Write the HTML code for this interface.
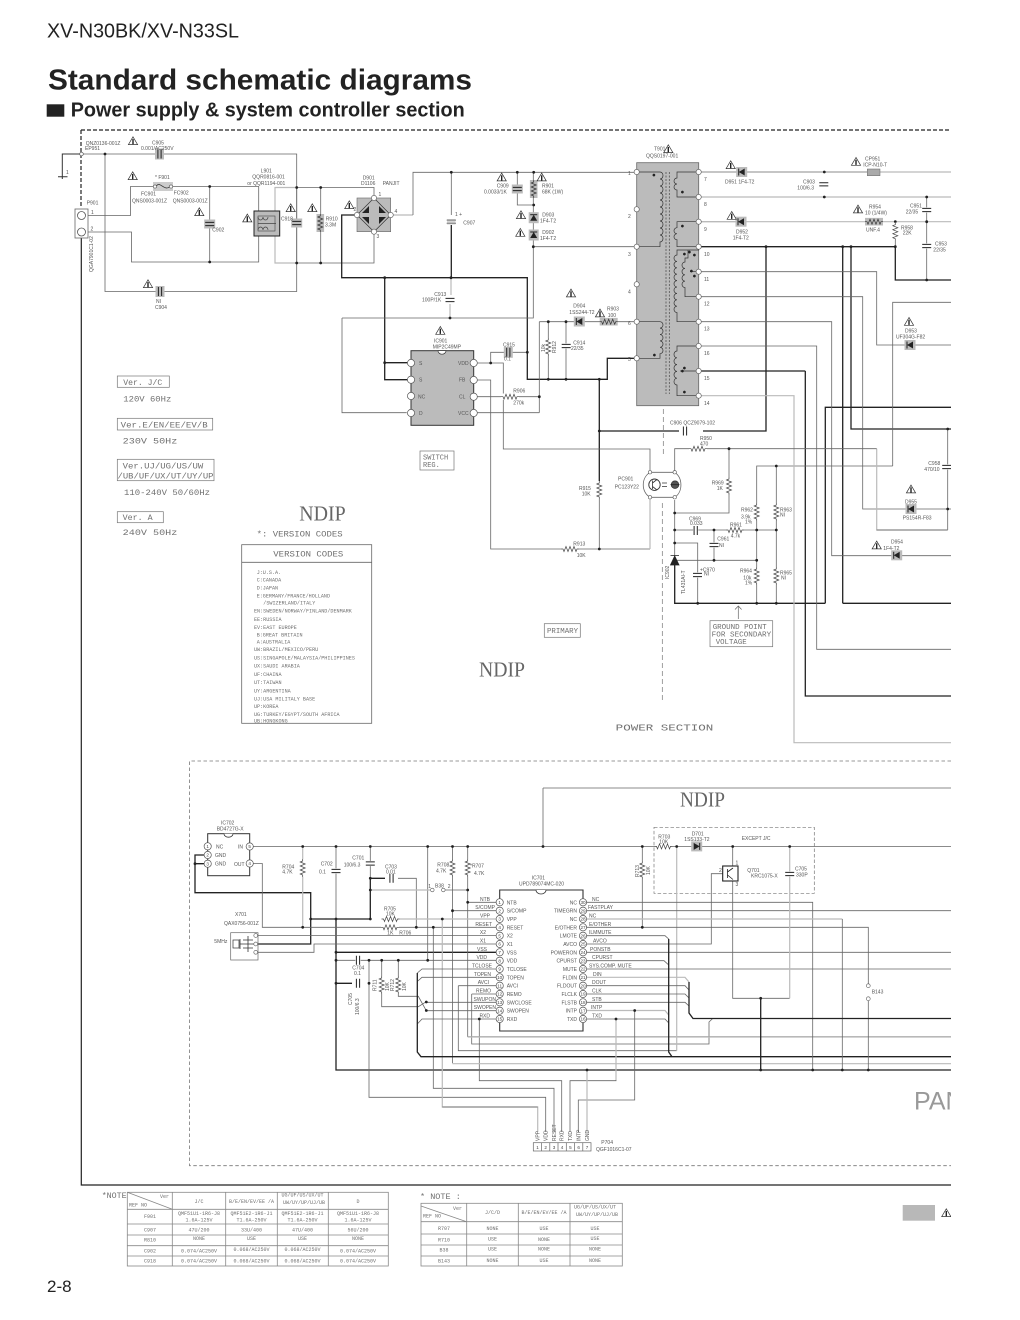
<!DOCTYPE html>
<html lang="en"><head><meta charset="utf-8"><title>Standard schematic diagrams</title>
<style>
html,body{margin:0;padding:0;background:#fff}
svg{display:block;position:absolute;left:0;top:0}
text{font-family:"Liberation Sans",sans-serif;fill:#555;font-size:5px}
.m{font-family:"Liberation Mono",monospace;fill:#707070}
.s{font-family:"Liberation Serif",serif;fill:#666;font-size:21px}
.c{text-anchor:middle}.e{text-anchor:end}
.g{fill:none;stroke:#666;stroke-width:.8}
.k{fill:none;stroke:#222;stroke-width:1.3}
.l{fill:none;stroke:#bbb;stroke-width:1.2}
.b{fill:none;stroke:#777;stroke-width:.8}
.p{font-size:4.6px;fill:#444}
</style></head><body>
<svg xmlns="http://www.w3.org/2000/svg" width="1020" height="1320" viewBox="0 0 1020 1320">
<defs>
<circle id="d" r="1.4" fill="#222"/>
<circle id="n" r="2.6" fill="#fff" stroke="#666" stroke-width=".7"/>
<circle id="pc" r="3.6" fill="#fff" stroke="#555" stroke-width=".7"/>
<g id="w"><polygon points="0,-4.2 -4.6,3.6 4.6,3.6" fill="#fff" stroke="#333" stroke-width=".7"/><line x1="0" y1="-2" x2="0" y2="3.2" stroke="#222" stroke-width="1.4"/></g>
<g id="rv"><rect x="-3.2" y="-9" width="6.4" height="18" fill="#fff"/><polyline points="0,-9 0,-7 -2.5,-6 2.5,-4 -2.5,-2 2.5,0 -2.5,2 2.5,4 -2.5,6 0,7 0,9" fill="none" stroke="#444" stroke-width=".7"/></g>
<g id="rh"><rect x="-9" y="-3.2" width="18" height="6.4" fill="#fff"/><polyline points="-9,0 -7,0 -6,2.5 -4,-2.5 -2,2.5 0,-2.5 2,2.5 4,-2.5 6,2.5 7,0 9,0" fill="none" stroke="#444" stroke-width=".7"/></g>
<g id="rvg"><rect x="-3.8" y="-9" width="7.6" height="18" fill="#bbb"/><polyline points="0,-9 0,-7 -2.5,-6 2.5,-4 -2.5,-2 2.5,0 -2.5,2 2.5,4 -2.5,6 0,7 0,9" fill="none" stroke="#333" stroke-width=".7"/></g>
<g id="rhg"><rect x="-9" y="-3.8" width="18" height="7.6" fill="#bbb"/><polyline points="-9,0 -7,0 -6,2.5 -4,-2.5 -2,2.5 0,-2.5 2,2.5 4,-2.5 6,2.5 7,0 9,0" fill="none" stroke="#333" stroke-width=".7"/></g>
<g id="cv"><rect x="-5" y="-2.6" width="10" height="5.2" fill="#fff"/><path d="M-4.5-1.6H4.5M-4.5 1.6H4.5" stroke="#222" stroke-width="1"/></g>
<g id="ch"><rect x="-2.6" y="-5" width="5.2" height="10" fill="#fff"/><path d="M-1.6-4.5V4.5M1.6-4.5V4.5" stroke="#222" stroke-width="1"/></g>
<g id="cvg"><rect x="-5.5" y="-4.5" width="11" height="9" fill="#bbb"/><path d="M-4.5-1.6H4.5M-4.5 1.6H4.5" stroke="#222" stroke-width="1"/></g>
<g id="chg"><rect x="-4.5" y="-5.5" width="9" height="11" fill="#bbb"/><path d="M-1.6-4.5V4.5M1.6-4.5V4.5" stroke="#222" stroke-width="1"/></g>
<g id="dr"><rect x="-5.5" y="-5" width="11" height="10" fill="#bbb"/><path d="M-3-3.5V3.5L3 0Z" fill="#222"/><path d="M3-3.5V3.5" stroke="#222" stroke-width="1"/></g>
<g id="dl"><rect x="-5.5" y="-5" width="11" height="10" fill="#bbb"/><path d="M3-3.5V3.5L-3 0Z" fill="#222"/><path d="M-3-3.5V3.5" stroke="#222" stroke-width="1"/></g>
<g id="du"><rect x="-5" y="-5.5" width="10" height="11" fill="#bbb"/><path d="M-3.5 3H3.5L0-3Z" fill="#222"/><path d="M-3.5-3H3.5" stroke="#222" stroke-width="1"/></g>
</defs>

<!-- header -->
<text x="47" y="37.3" style="font-size:20.5px;fill:#222" textLength="192" lengthAdjust="spacingAndGlyphs">XV-N30BK/XV-N33SL</text>
<text x="48" y="89.3" style="font-size:29px;font-weight:700;fill:#222" textLength="424" lengthAdjust="spacingAndGlyphs">Standard schematic diagrams</text>
<rect x="46.7" y="104.3" width="17.6" height="12.4" fill="#222"/>
<text x="70.7" y="116.7" style="font-size:20px;font-weight:700;fill:#222" textLength="394" lengthAdjust="spacingAndGlyphs">Power supply &amp; system controller section</text>
<text x="47" y="1292" style="font-size:17px;fill:#222">2-8</text>

<!-- frame -->
<path d="M81 130H951M81 130V208" fill="none" stroke="#222" stroke-width="1.2" stroke-dasharray="4 2"/>
<path d="M81.3 238V1185H951" fill="none" stroke="#222" stroke-width="1.2"/>
<path d="M951 761H189.5V1165.7H951" fill="none" stroke="#777" stroke-width=".8" stroke-dasharray="3.5 2.5"/>
<path d="M663.3 409V455M662.3 503V703" fill="none" stroke="#777" stroke-width=".7" stroke-dasharray="5 3"/>
<path d="M654 827.3H814.3V893.3H654Z" fill="none" stroke="#777" stroke-width=".7" stroke-dasharray="3.5 2"/>

<!-- primary wires -->
<path d="M81 154H62.3V176.7M58 176.7H67.5M62.3 176.7V179" fill="none" stroke="#333" stroke-width="1"/>
<path class="g" d="M81 154H296.7V187.5M105 154V291.5H296.7V187.5"/>
<path class="g" d="M88 215.5H130.5V186.5H258.7V211M88 232H131.5V262H258.7V236M209.7 186.5V262"/>
<path class="l" d="M275 211V187.5H296.7M275 236V263H296.7"/>
<path class="g" d="M296.7 187.5H374V198M296.7 263H374V232M320.7 187.5V263M296.7 187.5V263"/>
<path class="k" d="M357 215H341.7V277.7H527.3V379.3H607.3V358.3H636.7M384.7 277.7V379.7H411M599.3 379.3V482M384.7 362.7H411M599.3 431H679M703 431H766V246.7"/>
<path class="l" d="M390.7 215H413"/>
<path class="g" d="M413 215V172.3H636.7M451.3 172.3V215"/>
<path class="k" d="M451.3 225V277.7"/>
<path class="l" d="M451 278V295M450 304V318"/>
<path class="g" d="M342 318H533.3V246.7H636.7M342 318V412.7H406.7M533.3 172.3V180M533.3 198V246.7M517.3 172.3V205H533.3"/>
<path class="g" d="M473.7 363H503.3V449H650V470M490.7 363V352.3H527.3M473.7 380H490.7V549H561"/>
<path class="g" d="M579 549H650M599.3 498V549M473.7 396.7H501M519 396.7H539.3M473.7 412.7H539.3M539.3 321.7V412.7M539.3 321.7H636.7M548.3 321.7V379.3M566 321.7V379.3"/>
<path class="l" d="M650 499V549"/>

<!-- secondary wires -->
<path class="g" d="M698.7 172H867M698.7 221.7H736M895.3 222V246.7M926.7 222V280M926.7 197V222"/>
<path class="l" d="M880 172H951M698.7 197H951M698.7 221.7H865M882 221.7H951"/>
<path class="k" d="M698.7 246.7H895.3V280H951M842.7 246.7V603.3M851 246.7V429H951M825.3 603.3V407.3H951M674.7 560V603.3H825.3M842.7 603.3H951M805.3 371V696H951M698.7 371H805.3"/>
<path class="g" d="M698.7 271.7H876.7V345H951M698.7 296.7H862.7V509H951M698.7 321.7H831.7V555.7H951M698.7 346H816.7V649.3H951M892.7 466V302.3H951M892.7 466H756.7V603.3M776.3 466V603.3M947.7 430V530"/>
<path class="l" d="M698.7 395.7H794V742.7H951M876.7 448.7V530H947.7"/>
<path class="g" d="M876.7 530H947.7M674.7 472V448.7H689M707 448.7H876.7M729 448.7V513H674.7V500M674.7 513V560M674.7 530H714M714 530H756.7M714 530V560.3H756.7M674.7 543H697.7V603.3M676 560.3H714M650 472.3H674.7M650 497.3H674.7M756.7 530H776.3"/>

<!-- lower wires -->
<path class="g" d="M249.7 846.5H951M543 788H951M543 788V846.5"/>
<path class="k" d="M207 855H195V892.7H310.7V944H257M195 863.7H207M310.7 919H370.3V878.3M370.3 878.3H385M336 919V1070H951M336 952.3H496M336 983.3H352"/>
<path class="g" d="M370.3 846.5V878M336 846.5V919M249.7 863.5H262.3V927.3H383M396 927.3H496M398 878.3H416.3V927.3M369 960.3V1097.3H545.7V1132M336 960.3H496M427.7 846.5V960.3M452.5 846.5V1063.3M452.5 910.7H496M467.7 846.5V1037M467.7 902.3H496M257 935.5H496M257 952.3H314V944H496M433.3 927.3V1088.3H554V1132"/>
<path class="l" d="M302.7 846.5V927.3M370.3 890H430M398 919H496M442.3 919V1107H537.7V1132"/>
<path class="g" d="M443.3 890H467.7M442.3 1107H537.7M381.7 960.3V1006.7H418.3L426.3 1001.7M398.3 960.3V996.3H418.3L426.3 1010.7M426.3 1002.3H496M426.3 1010.7H496M417.3 973L422 969H496M417.3 981.5L422 977.3H496M417.3 1024L422 1019H496M458.3 985.7H496M458.3 985.7V1050.7H676.7M471.7 994H496M471.7 994V1044H709V1022L712.7 1018.5M479.3 1019V1080.7H561.7V1132M467.7 1036.7H951"/>
<path class="l" d="M467.7 1037H951M452.5 1063.7H951M676.7 846.5V1050.7"/>
<path class="k" d="M417.3 973V1052L421 1056.7H951"/>
<!-- right side of IC701 -->
<path class="g" d="M586 902.3H812.7V1070M586 910.7H951M586 927.3H868.3V985M868.3 1001V1070M642.3 846.5V927.3M586 935.7H665L668.7 939M586 944H711.3V873.7H722.7M586 952.3H951M586 960.7H664L668.7 965M586 969H951M586 985.7H685L689 990M586 994H685L689 998M586 1002.3H685L689 1006M586 1019H665L668.7 1023M616 1019V1080.7H570V1132M634.7 1010.5V1100H578.3V1132M732.7 846.5V866M732.7 881V998.3H789.7M616 1019V1080.7"/>
<path class="l" d="M586 919H842.3M586 977.3H685L689 982M586 1010.5H665L668.7 1015M789.7 846.5V998.3M616 1019V1080M587 1070V1132"/>
<path class="g" d="M842.3 919V1070"/>
<path class="k" d="M668.7 939V1052L672 1056.7M689 982V1013L693 1018.5H951M760.7 998.3V1070"/>

<!-- dots -->
<use href="#d" x="105" y="154"/><use href="#d" x="209.7" y="186.5"/><use href="#d" x="209.7" y="262"/><use href="#d" x="296.7" y="187.5"/><use href="#d" x="320.7" y="187.5"/><use href="#d" x="296.7" y="263"/><use href="#d" x="320.7" y="263"/><use href="#d" x="451.3" y="172.3"/><use href="#d" x="384.7" y="277.7"/><use href="#d" x="451" y="277.7"/><use href="#d" x="450" y="318"/><use href="#d" x="384.7" y="362.7"/><use href="#d" x="490.7" y="363"/><use href="#d" x="527.3" y="352.3"/><use href="#d" x="517.3" y="172.3"/><use href="#d" x="533.7" y="172.3"/><use href="#d" x="533.7" y="205"/><use href="#d" x="533.3" y="246.7"/><use href="#d" x="548.3" y="321.7"/><use href="#d" x="566" y="321.7"/><use href="#d" x="548.3" y="379.3"/><use href="#d" x="566" y="379.3"/><use href="#d" x="599.3" y="379.3"/><use href="#d" x="539.3" y="396.7"/><use href="#d" x="599.3" y="431"/><use href="#d" x="599.3" y="549"/>
<use href="#d" x="824.3" y="172"/><use href="#d" x="824.3" y="197"/><use href="#d" x="926.7" y="197"/><use href="#d" x="895.3" y="221.7"/><use href="#d" x="926.7" y="221.7"/><use href="#d" x="766" y="246.7"/><use href="#d" x="842.7" y="246.7"/><use href="#d" x="851" y="246.7"/><use href="#d" x="895.3" y="246.7"/><use href="#d" x="926.7" y="280"/><use href="#d" x="947.7" y="429"/><use href="#d" x="947.7" y="509"/><use href="#d" x="729" y="448.7"/><use href="#d" x="776.3" y="466"/><use href="#d" x="674.7" y="513"/><use href="#d" x="674.7" y="530"/><use href="#d" x="714" y="530"/><use href="#d" x="756.7" y="530"/><use href="#d" x="776.3" y="530"/><use href="#d" x="674.7" y="543"/><use href="#d" x="714" y="560.3"/><use href="#d" x="756.7" y="560.3"/><use href="#d" x="697.7" y="603.3"/><use href="#d" x="756.7" y="603.3"/><use href="#d" x="776.3" y="603.3"/>
<use href="#d" x="302.7" y="846.5"/><use href="#d" x="336" y="846.5"/><use href="#d" x="370.3" y="846.5"/><use href="#d" x="427.7" y="846.5"/><use href="#d" x="452.5" y="846.5"/><use href="#d" x="467.7" y="846.5"/><use href="#d" x="543" y="846.5"/><use href="#d" x="642.3" y="846.5"/><use href="#d" x="676.7" y="846.5"/><use href="#d" x="732.7" y="846.5"/><use href="#d" x="789.7" y="846.5"/><use href="#d" x="195" y="863.7"/><use href="#d" x="370.3" y="878.3"/><use href="#d" x="370.3" y="890"/><use href="#d" x="467.7" y="890"/><use href="#d" x="467.7" y="902.3"/><use href="#d" x="452.5" y="910.7"/><use href="#d" x="310.7" y="919"/><use href="#d" x="336" y="919"/><use href="#d" x="370.3" y="919"/><use href="#d" x="442.3" y="919"/><use href="#d" x="302.7" y="927.3"/><use href="#d" x="416.3" y="927.3"/><use href="#d" x="433.3" y="927.3"/><use href="#d" x="336" y="952.3"/><use href="#d" x="336" y="960.3"/><use href="#d" x="369" y="960.3"/><use href="#d" x="381.7" y="960.3"/><use href="#d" x="398.3" y="960.3"/><use href="#d" x="427.7" y="960.3"/><use href="#d" x="336" y="983.3"/><use href="#d" x="369" y="983.3"/><use href="#d" x="426.3" y="1002"/><use href="#d" x="426.3" y="1010.5"/><use href="#d" x="479.3" y="1019"/><use href="#d" x="616" y="1019"/><use href="#d" x="634.7" y="1010.5"/><use href="#d" x="642.3" y="927.3"/><use href="#d" x="760.7" y="998.3"/><use href="#d" x="760.7" y="1070"/><use href="#d" x="812.7" y="1070"/><use href="#d" x="842.3" y="1070"/><use href="#d" x="868.3" y="1070"/><use href="#d" x="587" y="1070"/>

<!-- P901 -->
<rect x="75" y="209" width="13" height="29" fill="#fff" stroke="#666" stroke-width=".8"/>
<circle cx="81.5" cy="215.5" r="4" fill="#fff" stroke="#555" stroke-width=".8"/><circle cx="81.5" cy="232" r="4" fill="#fff" stroke="#555" stroke-width=".8"/>
<circle cx="81.5" cy="154" r="1.8" fill="#fff" stroke="#555" stroke-width=".7"/>
<!-- fuse -->
<rect x="153" y="182" width="20" height="9" fill="#ccc"/><path d="M156 186.5C160 180 164 192 170 186.5" fill="none" stroke="#333" stroke-width=".8"/><circle cx="155" cy="186.5" r="1.6" fill="#fff" stroke="#555" stroke-width=".6"/><circle cx="171" cy="186.5" r="1.6" fill="#fff" stroke="#555" stroke-width=".6"/>
<use href="#chg" x="159.5" y="154"/><use href="#chg" x="160" y="291.5"/>
<use href="#cvg" x="209.7" y="224"/><use href="#cvg" x="296.7" y="223"/>
<use href="#rvg" x="320.3" y="223"/>
<!-- L901 -->
<rect x="254" y="211" width="25.7" height="25" fill="#bbb" stroke="#222" stroke-width="1"/>
<path d="M258 217a2.5 3 0 1 0 5 0a2.5 3 0 1 0 5 0M258 230a2.5 3 0 1 1 5 0a2.5 3 0 1 1 5 0M258 223.5H276" fill="none" stroke="#444" stroke-width=".7"/>
<rect x="258" y="216" width="17" height="15" fill="none" stroke="#444" stroke-width=".6"/>
<!-- D901 -->
<rect x="357" y="198" width="33.7" height="33.7" fill="#bbb" stroke="#666" stroke-width=".6"/>
<path d="M357 215L374 198L390.7 215L374 231.7Z" fill="none" stroke="#333" stroke-width=".7"/>
<path d="M362 213L369 206L369 213ZM379 206L386 213L379 213ZM369 217L362 217L369 224ZM379 217L386 217L379 224Z" fill="#222"/>
<use href="#n" x="374" y="198"/><use href="#n" x="357" y="215"/><use href="#n" x="390.7" y="215"/><use href="#n" x="374" y="231.7"/>
<use href="#cv" x="451.3" y="221.7"/><rect x="447" y="219" width="8.5" height="5.5" fill="#bbb" opacity=".6"/>
<use href="#cv" x="450" y="300"/>
<use href="#chg" x="508.3" y="352.3"/>
<use href="#cvg" x="517.3" y="189"/><use href="#rvg" x="533.7" y="189"/>
<use href="#du" x="533.7" y="217.7"/><use href="#du" x="533.7" y="235"/>
<use href="#dl" x="579.3" y="321.5"/><use href="#rhg" x="608.7" y="321.7"/>
<use href="#rv" x="548.3" y="347"/><use href="#cv" x="566.2" y="346"/>
<use href="#rh" x="510" y="396.7"/>
<!-- IC901 -->
<rect x="411" y="350.7" width="62.7" height="74.6" fill="#bbb" stroke="#333" stroke-width="1"/>
<path d="M438 350.7a4 3.5 0 0 0 8 0Z" fill="#fff" stroke="#333" stroke-width=".7"/>
<use href="#pc" x="411" y="363"/><use href="#pc" x="411" y="379.7"/><use href="#pc" x="411" y="396"/><use href="#pc" x="411" y="413"/><use href="#pc" x="473.7" y="363"/><use href="#pc" x="473.7" y="380"/><use href="#pc" x="473.7" y="396.7"/><use href="#pc" x="473.7" y="413"/>
<!-- T901 -->
<rect x="636.7" y="162.7" width="62" height="243" fill="#bbb" stroke="#666" stroke-width=".8"/>
<path d="M666 172V394M669.3 172V394" fill="none" stroke="#444" stroke-width=".7" stroke-dasharray="2 1.5"/>
<path fill="none" stroke="#333" stroke-width=".7" d="M636.7 172H660a3 3.5 0 1 1 0 7a3 3.5 0 1 1 0 7a3 3.5 0 1 1 0 7a3 3.5 0 1 1 0 7a3 3.5 0 1 1 0 7a3 3.5 0 1 1 0 7a3 3.5 0 1 1 0 7a3 3.5 0 1 1 0 7a3 3.5 0 1 1 0 7a3 3.5 0 1 1 0 7V246.7H636.7
M698.7 172H677v6a3 3 0 1 0 0 6a3 3 0 1 0 0 6v7H698.7
M698.7 221.7H677v6a3 3 0 1 0 0 6a3 3 0 1 0 0 6v7H698.7
M698.7 246.7V250H677v5a3 3.2 0 1 0 0 6.4a3 3.2 0 1 0 0 6.4a3 3.2 0 1 0 0 6.4a3 3.2 0 1 0 0 6.4a3 3.2 0 1 0 0 6.4a3 3.2 0 1 0 0 6.4a3 3.2 0 1 0 0 6.4a3 3.2 0 1 0 0 6.4a3 3.2 0 1 0 0 6.4V321.7H698.7
M688 250V258H685v4a3 3.2 0 1 0 0 6.4a3 3.2 0 1 0 0 6.4a3 3.2 0 1 0 0 6.4a3 3.2 0 1 0 0 6.4V296.7H698.7M690 271.7H698.7
M636.7 321.7H660a3 3.2 0 1 1 0 6.4a3 3.2 0 1 1 0 6.4a3 3.2 0 1 1 0 6.4a3 3.2 0 1 1 0 6.4a3 3.2 0 1 1 0 6.4V358.3H636.7
M698.7 346H677v5a3 3.4 0 1 0 0 6.8a3 3.4 0 1 0 0 6.8a3 3.4 0 1 0 0 6.8a3 3.4 0 1 0 0 6.8a3 3.4 0 1 0 0 6.8V395.7H698.7M680 371H698.7"/>
<path fill="#222" d="M652.5 175a1.4 1.4 0 1 1 0 .1ZM681 192a1.4 1.4 0 1 1 0 .1ZM681 226a1.4 1.4 0 1 1 0 .1ZM683 254a1.4 1.4 0 1 1 0 .1ZM688 252a1.4 1.4 0 1 1 0 .1ZM693 255a1.4 1.4 0 1 1 0 .1ZM690 271a1.4 1.4 0 1 1 0 .1ZM693 276a1.4 1.4 0 1 1 0 .1ZM653 355a1.4 1.4 0 1 1 0 .1ZM683 368a1.4 1.4 0 1 1 0 .1ZM681 371a1.4 1.4 0 1 1 0 .1ZM683 392a1.4 1.4 0 1 1 0 .1Z"/>
<use href="#n" x="636.7" y="172"/><use href="#n" x="636.7" y="209.3"/><use href="#n" x="636.7" y="246.7"/><use href="#n" x="636.7" y="284.3"/><use href="#n" x="636.7" y="321.7"/><use href="#n" x="636.7" y="358.3"/>
<use href="#n" x="698.7" y="172"/><use href="#n" x="698.7" y="197"/><use href="#n" x="698.7" y="221.7"/><use href="#n" x="698.7" y="246.7"/><use href="#n" x="698.7" y="271.7"/><use href="#n" x="698.7" y="296.7"/><use href="#n" x="698.7" y="321.7"/><use href="#n" x="698.7" y="346"/><use href="#n" x="698.7" y="371"/><use href="#n" x="698.7" y="395.7"/>
<!-- secondary components -->
<use href="#dl" x="741.7" y="172"/><use href="#dl" x="741" y="221.7"/><use href="#dl" x="910" y="345"/><use href="#dl" x="911" y="509"/><use href="#dl" x="896.7" y="555.3"/>
<use href="#cv" x="823.8" y="184.3"/><use href="#cv" x="926.7" y="210"/><use href="#cv" x="926.7" y="246"/><use href="#cv" x="946.7" y="467"/>
<rect x="867.3" y="169" width="12.7" height="6.7" fill="#aaa" stroke="#666" stroke-width=".5"/>
<use href="#rhg" x="874" y="221.7"/><use href="#rv" x="895.3" y="231.7"/>
<use href="#ch" x="685" y="431"/><use href="#rh" x="698" y="448.7"/>
<use href="#rv" x="599.3" y="490"/><use href="#rh" x="570" y="549"/>
<use href="#rv" x="729" y="486"/><use href="#rv" x="756.7" y="512"/><use href="#rv" x="776.3" y="512"/><use href="#rv" x="756.7" y="576"/><use href="#rv" x="776.3" y="576"/>
<use href="#ch" x="695.7" y="530.5"/><use href="#rh" x="735" y="530"/><use href="#cv" x="714" y="545"/><use href="#cv" x="697.5" y="575"/>
<path d="M670.5 565H679L674.7 556Z M670.5 555.5H679" fill="#222" stroke="#222" stroke-width=".8"/>
<!-- PC901 -->
<path d="M650 472.3C641 478 641 492 650 497.3M674.7 472.3C683 478 683 492 674.7 497.3" fill="none" stroke="#666" stroke-width=".8"/>
<circle cx="654.5" cy="484.7" r="5.7" fill="#fff" stroke="#333" stroke-width=".9"/><path d="M652.5 480.5V489M652.5 483L657 479.5M652.5 486.5L657 490" stroke="#333" stroke-width=".8" fill="none"/>
<path d="M662 483H667M662 486.5H667" stroke="#333" stroke-width=".8"/>
<circle cx="675" cy="484.7" r="3.8" fill="#555" stroke="#333" stroke-width=".7"/><path d="M670.5 484.7H679.5" stroke="#222" stroke-width=".8"/>
<circle cx="650" cy="472.3" r="1.7" fill="#fff" stroke="#555" stroke-width=".6"/><circle cx="674.7" cy="472.3" r="1.7" fill="#fff" stroke="#555" stroke-width=".6"/><circle cx="650" cy="497.3" r="1.7" fill="#fff" stroke="#555" stroke-width=".6"/><circle cx="674.7" cy="497.3" r="1.7" fill="#fff" stroke="#555" stroke-width=".6"/>
<path d="M738.3 619V606M735 609.5L738.3 606L741.6 609.5" fill="none" stroke="#666" stroke-width=".7"/>

<!-- warnings -->
<use href="#w" x="133" y="141"/><use href="#w" x="132.7" y="176"/><use href="#w" x="199.3" y="212"/><use href="#w" x="247.3" y="218.3"/><use href="#w" x="290.7" y="208"/><use href="#w" x="312.3" y="208"/><use href="#w" x="349.3" y="205"/><use href="#w" x="148" y="284"/><use href="#w" x="440.3" y="330.7"/><use href="#w" x="501.7" y="177.3"/><use href="#w" x="541.7" y="177.3"/><use href="#w" x="521" y="215"/><use href="#w" x="520.3" y="232.7"/><use href="#w" x="571" y="293.3"/><use href="#w" x="600" y="313.3"/><use href="#w" x="668.3" y="149"/><use href="#w" x="730.7" y="165"/><use href="#w" x="731.7" y="215.7"/><use href="#w" x="856" y="161.7"/><use href="#w" x="858" y="209.3"/><use href="#w" x="909" y="321.7"/><use href="#w" x="911" y="489.3"/><use href="#w" x="876.7" y="545.3"/>

<!-- upper labels -->
<text x="85.7" y="145">QNZ0136-001Z</text><text x="85" y="150">EP951</text><text x="152" y="144.5">C905</text><text x="141" y="150">0.001/AC250V</text>
<text x="66" y="174">1</text><text x="155" y="179">* F901</text><text x="141" y="195.5">FC901</text><text x="173.7" y="194.5">FC902</text><text x="132" y="202.5">QNS0003-001Z</text><text x="172.7" y="202.5">QNS0003-001Z</text><text x="212.3" y="231.5">C902</text><text x="86.7" y="204.5">P901</text><text x="91" y="214">1</text><text x="90.5" y="230.5">2</text>
<text transform="translate(93,272) rotate(-90)">QGA7901C1-02</text>
<text x="260.7" y="172.5">L901</text><text x="252.3" y="178.5">QQR0816-001</text><text x="247.3" y="185">or  QQR1194-001</text><text x="281" y="220.5">C918</text><text x="325.7" y="220.5">R910</text><text x="325" y="226.5">3.3M</text><text x="362.7" y="179.5">D901</text><text x="361" y="185">D1106</text><text x="382.7" y="185">PANJIT</text>
<text x="378.5" y="196">1</text><text x="394.5" y="213">4</text><text x="353.5" y="211">2</text><text x="376.5" y="238">3</text><text x="455" y="216">1 +</text><text x="463.3" y="224.5">C907</text>
<text x="156" y="303">NI</text><text x="155" y="309">C904</text>
<text x="434.3" y="296">C913</text><text x="422" y="301.5">100P/1K</text><text x="434" y="342.5">IC901</text><text x="432.7" y="348.5">MIP2C49MP</text>
<text x="419" y="365">S</text><text x="419" y="381.5">S</text><text x="418" y="398.5">NC</text><text x="419" y="415">D</text><text x="458" y="365">VDD</text><text x="459" y="381.5">FB</text><text x="459" y="398.5">CL</text><text x="458" y="415">VCC</text>
<text x="496.7" y="187.5">C909</text><text x="484" y="193.5">0.0033/1K</text><text x="542" y="187.5">R901</text><text x="542" y="193.5">68K (1W)</text><text x="542.3" y="216.5">D903</text><text x="540" y="222.5">1F4-T2</text><text x="542.3" y="234">D902</text><text x="540" y="240">1F4-T2</text>
<text x="573.3" y="307.5">D904</text><text x="569.3" y="314">1SS244-T2</text><text x="607" y="310.5">R903</text><text x="607.7" y="317">100</text>
<text transform="translate(545,352) rotate(-90)">10k</text><text transform="translate(556,353) rotate(-90)">R912</text>
<text x="573.3" y="344.5">C914</text><text x="571" y="350">22/35</text><text x="503" y="346.5">C915</text><text x="504" y="360.5">0.1</text><text x="513.3" y="392.5">R906</text><text x="513.3" y="404.5">270k</text>
<text x="654" y="150.5">T901</text><text x="646" y="157.5">QQS0197-001</text>
<text x="628" y="175">1</text><text x="628" y="218">2</text><text x="628" y="256">3</text><text x="628" y="293.5">4</text><text x="628" y="325">6</text><text x="628" y="361">5</text>
<g style="font-size:5.5px"><text x="704" y="181">7</text><text x="704" y="206">8</text><text x="704" y="231">9</text><text x="704" y="256">10</text><text x="704" y="281">11</text><text x="704" y="305.5">12</text><text x="704" y="330.5">13</text><text x="704" y="355">16</text><text x="704" y="380">15</text><text x="704" y="405">14</text></g>
<text x="725" y="183.5">D951  1F4-T2</text><text x="736" y="233.5">D952</text><text x="732.7" y="239.5">1F4-T2</text>
<text x="803" y="183.7">C903</text><text x="797.3" y="189.7">100/6.3</text><text x="865" y="160.7">CP951</text><text x="863.3" y="166.5">ICP-N10-T</text><text x="910" y="207.5">C951</text><text x="905.7" y="213.5">22/35</text><text x="869" y="208.5">R954</text><text x="865" y="214.5">10   (1/4W)</text><text x="866" y="231.5">UNF.4</text><text x="901" y="229.5">R958</text><text x="902.7" y="234.5">22K</text><text x="935" y="245.5">C953</text><text x="933.3" y="251.5">22/35</text><text x="905" y="332.5">D953</text><text x="896" y="338.5">UF304G-F82</text>
<text x="670" y="424.5">C906  QCZ9079-102</text><text x="700" y="440">R950</text><text x="700" y="445.5">470</text>
<text x="618" y="480.5">PC901</text><text x="614.7" y="488.5">PC123Y22</text><text x="579" y="490">R915</text><text x="581.7" y="495.5">10K</text><text x="573.3" y="545.5">R913</text><text x="576.7" y="557">10K</text>
<text x="711.7" y="484.5">R969</text><text x="716.7" y="490">1K</text><text x="741" y="511.5">R962</text><text x="741" y="518.5">3.9k</text><text x="745" y="523.5">1%</text><text x="780" y="511.5">R963</text><text x="780" y="516.5">NI</text><text x="689" y="520.5">C969</text><text x="690" y="525">0.033</text><text x="730" y="526.5">R961</text><text x="730.7" y="537.5">4.7k</text><text x="717.3" y="540.5">C961</text><text x="719" y="547">NI</text>
<text transform="translate(669,579) rotate(-90)">IC902</text><text transform="translate(685,594) rotate(-90)">TL431AI-T</text>
<text x="700" y="571.5">+C970</text><text x="704" y="575.5">NI</text><text x="740" y="572.5">R964</text><text x="743.3" y="579.5">10k</text><text x="745" y="584.5">1%</text><text x="780" y="574.5">R965</text><text x="781" y="579.5">NI</text>
<text x="928.3" y="465">C958</text><text x="924.3" y="471">470/10</text><text x="905" y="503.5">D955</text><text x="902.7" y="519.5">PS154R-F83</text><text x="891" y="543.5">D954</text><text x="883.3" y="550">1F4-T2</text>

<!-- large mono labels -->
<rect x="117.3" y="376" width="52" height="11.3" fill="#fff" stroke="#777" stroke-width=".7"/><text class="m" x="123.3" y="385" style="font-size:8px" textLength="39" lengthAdjust="spacingAndGlyphs">Ver. J/C</text>
<text class="m" x="123.3" y="401.3" style="font-size:8px" textLength="48" lengthAdjust="spacingAndGlyphs">120V  60Hz</text>
<rect x="117.3" y="418.3" width="95.4" height="11.7" fill="#fff" stroke="#777" stroke-width=".7"/><text class="m" x="120.7" y="427.3" style="font-size:8.5px" textLength="87" lengthAdjust="spacingAndGlyphs">Ver.E/EN/EE/EV/B</text>
<text class="m" x="122.7" y="443.7" style="font-size:8px" textLength="54.6" lengthAdjust="spacingAndGlyphs">230V   50Hz</text>
<rect x="117.3" y="459.3" width="96.7" height="21.4" fill="#fff" stroke="#777" stroke-width=".7"/><text class="m" x="122.7" y="468.7" style="font-size:8.5px" textLength="80.6" lengthAdjust="spacingAndGlyphs">Ver.UJ/UG/US/UW</text><text class="m" x="117.5" y="478.7" style="font-size:8.5px" textLength="96" lengthAdjust="spacingAndGlyphs">/UB/UF/UX/UT/UY/UP</text>
<text class="m" x="124" y="495" style="font-size:8px" textLength="86" lengthAdjust="spacingAndGlyphs">110-240V  50/60Hz</text>
<rect x="117.3" y="511.7" width="46" height="11" fill="#fff" stroke="#777" stroke-width=".7"/><text class="m" x="122.7" y="520" style="font-size:8px" textLength="30" lengthAdjust="spacingAndGlyphs">Ver. A</text>
<text class="m" x="122.7" y="535" style="font-size:8px" textLength="54.6" lengthAdjust="spacingAndGlyphs">240V   50Hz</text>
<text class="s" x="299.3" y="520.7" textLength="46.4" lengthAdjust="spacingAndGlyphs">NDIP</text>
<text class="s" x="479" y="676.7" textLength="46" lengthAdjust="spacingAndGlyphs">NDIP</text>
<text class="s" x="680" y="806.7" textLength="45" lengthAdjust="spacingAndGlyphs">NDIP</text>
<text class="m" x="256.7" y="536.7" style="font-size:8px" textLength="86" lengthAdjust="spacingAndGlyphs">*: VERSION CODES</text>
<rect x="241.7" y="544.7" width="130" height="178.6" fill="#fff" stroke="#666" stroke-width=".8"/><path d="M241.7 562.3H371.7" stroke="#666" stroke-width=".8"/>
<text class="m" x="273.3" y="556.7" style="font-size:8px" textLength="70" lengthAdjust="spacingAndGlyphs">VERSION CODES</text>
<g>
<text class="m" x="256.7" y="574" style="font-size:5.1px">J:U.S.A.</text>
<text class="m" x="256.7" y="581.7" style="font-size:5.1px">C:CANADA</text>
<text class="m" x="256.7" y="589.7" style="font-size:5.1px">D:JAPAN</text>
<text class="m" x="256.7" y="597.4" style="font-size:5.1px">E:GERMANY/FRANCE/HOLLAND</text>
<text class="m" x="263.3" y="604.4" style="font-size:5.1px">/SWIZERLAND/ITALY</text>
<text class="m" x="254" y="612.7" style="font-size:5.1px">EN:SWEDEN/NORWAY/FINLAND/DENMARK</text>
<text class="m" x="254" y="621" style="font-size:5.1px">EE:RUSSIA</text>
<text class="m" x="254" y="629" style="font-size:5.1px">EV:EAST EUROPE</text>
<text class="m" x="256.7" y="636.4" style="font-size:5.1px">B:GREAT BRITAIN</text>
<text class="m" x="256.7" y="643.7" style="font-size:5.1px">A:AUSTRALIA</text>
<text class="m" x="254" y="651" style="font-size:5.1px">UW:BRAZIL/MEXICO/PERU</text>
<text class="m" x="254" y="659.4" style="font-size:5.1px">US:SINGAPOLE/MALAYSIA/PHILIPPINES</text>
<text class="m" x="254" y="667.7" style="font-size:5.1px">UX:SAUDI ARABIA</text>
<text class="m" x="254" y="676" style="font-size:5.1px">UF:CHAINA</text>
<text class="m" x="254" y="684" style="font-size:5.1px">UT:TAIWAN</text>
<text class="m" x="254" y="692.4" style="font-size:5.1px">UY:ARGENTINA</text>
<text class="m" x="254" y="700.7" style="font-size:5.1px">UJ:USA MILITALY BASE</text>
<text class="m" x="254" y="708" style="font-size:5.1px">UP:KOREA</text>
<text class="m" x="254" y="716" style="font-size:5.1px">UG:TURKEY/EGYPT/SOUTH AFRICA</text>
<text class="m" x="254" y="722.7" style="font-size:5.1px">UB:HONGKONG</text>
</g>
<rect x="420" y="451" width="34" height="19" fill="#fff" stroke="#777" stroke-width=".7"/><text class="m" x="423" y="459.5" style="font-size:7px">SWITCH</text><text class="m" x="423" y="467" style="font-size:7px">REG.</text>
<rect x="544.3" y="623.7" width="36" height="13.6" fill="#fff" stroke="#777" stroke-width=".7"/><text class="m" x="547" y="632.8" style="font-size:7px" textLength="31" lengthAdjust="spacingAndGlyphs">PRIMARY</text>
<rect x="710" y="620.7" width="62.7" height="26" fill="#fff" stroke="#777" stroke-width=".7"/>
<text class="m" x="712.7" y="629" style="font-size:7.5px" textLength="54" lengthAdjust="spacingAndGlyphs">GROUND POINT</text><text class="m" x="711.7" y="636.7" style="font-size:7.5px" textLength="59.5" lengthAdjust="spacingAndGlyphs">FOR SECONDARY</text><text class="m" x="715.7" y="644" style="font-size:7.5px" textLength="31" lengthAdjust="spacingAndGlyphs">VOLTAGE</text>
<text class="m" x="615.7" y="730.7" style="font-size:9px" textLength="97.6" lengthAdjust="spacingAndGlyphs">POWER  SECTION</text>

<!-- IC702 -->
<rect x="207.7" y="833.7" width="42" height="42" fill="#fff" stroke="#333" stroke-width="1"/><path d="M224 833.7a4.5 3.5 0 0 0 9 0" fill="#fff" stroke="#333" stroke-width=".8"/>
<use href="#pc" x="207.7" y="846.3"/><use href="#pc" x="207.7" y="855"/><use href="#pc" x="207.7" y="863.7"/><use href="#pc" x="249.7" y="846.5"/><use href="#pc" x="249.7" y="863.5"/>
<text x="221" y="824.5">IC702</text><text x="216.7" y="830.7">BD4727G-X</text><text x="216" y="848.5">NC</text><text x="215" y="857">GND</text><text x="215" y="865.5">GND</text><text x="238" y="848.5">IN</text><text x="234" y="866">OUT</text>
<text class="p c" x="207.7" y="848">1</text><text class="p c" x="207.7" y="856.7">2</text><text class="p c" x="207.7" y="865.4">3</text><text class="p c" x="249.7" y="848.2">5</text><text class="p c" x="249.7" y="865.2">4</text>
<use href="#rv" x="302.7" y="868"/><use href="#cv" x="336" y="871"/><use href="#cv" x="370.3" y="863.5"/><use href="#ch" x="391.5" y="878.3"/><use href="#rv" x="452.5" y="868"/><use href="#rv" x="467.7" y="868"/>
<use href="#rh" x="390.5" y="919"/><use href="#rh" x="390" y="927.3"/><use href="#ch" x="358" y="960.3"/><use href="#ch" x="358" y="983.3"/><use href="#rv" x="381.7" y="985"/><use href="#rv" x="398.3" y="985"/>
<circle cx="432.3" cy="890" r="1.8" fill="#fff" stroke="#555" stroke-width=".6"/><circle cx="443.3" cy="890" r="1.8" fill="#fff" stroke="#555" stroke-width=".6"/>
<text x="282.3" y="868.5">R704</text><text x="282.3" y="873.7">4.7K</text><text x="320.7" y="865.7">C702</text><text x="319" y="873.7">0.1</text><text x="352.3" y="859.7">C701</text><text x="343.7" y="866.7">100/6.3</text><text x="385" y="868.7">C703</text><text x="386" y="873.7">0.01</text><text x="384" y="910.5">R705</text><text x="386" y="915.5">10K</text><text x="387.3" y="934.5">1K</text><text x="399.3" y="934.5">R706</text><text x="437.3" y="866.7">R708</text><text x="436" y="872.7">4.7K</text><text x="470" y="867.7">*R707</text><text x="474" y="875">4.7K</text><text x="428.3" y="888">1</text><text x="435" y="887.5">B38</text><text x="447.7" y="888">2</text>
<!-- X701 -->
<rect x="230.7" y="932.7" width="27.3" height="27.3" fill="#fff" stroke="#666" stroke-width=".7"/>
<path d="M240 939V949M240 944H255M248 936V952M243 940H253M243 944H253M243 948H253" stroke="#333" stroke-width=".8" fill="none"/><rect x="233" y="940" width="6" height="8" fill="#fff" stroke="#333" stroke-width=".7"/>
<circle cx="255.7" cy="935.5" r="1.9" fill="#fff" stroke="#555" stroke-width=".6"/><circle cx="255.7" cy="944" r="1.9" fill="#fff" stroke="#555" stroke-width=".6"/><circle cx="255.7" cy="952.3" r="1.9" fill="#fff" stroke="#555" stroke-width=".6"/>
<text x="235" y="916">X701</text><text x="224" y="925">QAX0756-001Z</text><text x="214.3" y="943">5MHz</text>
<text x="352.3" y="969.5">C704</text><text x="354" y="975">0.1</text>
<text transform="translate(352,1005) rotate(-90)">C705</text><text transform="translate(359,1015) rotate(-90)">100/6.3</text>
<text transform="translate(376.5,991) rotate(-90)">R711</text><text transform="translate(389,991) rotate(-90)">10K</text><text transform="translate(394,991) rotate(-90)">R712</text><text transform="translate(406,991) rotate(-90)">10K</text>
<!-- IC701 -->
<rect x="499.7" y="890" width="83.3" height="141" fill="#fff"/>
<path d="M499.7 902V890H583V902M499.7 1019V1031H583V1019" fill="none" stroke="#333" stroke-width="1.1"/><path d="M536 890a5 4 0 0 0 10 0" fill="#fff" stroke="#333" stroke-width=".8"/>
<g>
<use href="#pc" x="499.7" y="902.3"/><use href="#pc" x="499.7" y="910.7"/><use href="#pc" x="499.7" y="919"/><use href="#pc" x="499.7" y="927.3"/><use href="#pc" x="499.7" y="935.7"/><use href="#pc" x="499.7" y="944"/><use href="#pc" x="499.7" y="952.3"/><use href="#pc" x="499.7" y="960.7"/><use href="#pc" x="499.7" y="969"/><use href="#pc" x="499.7" y="977.3"/><use href="#pc" x="499.7" y="985.7"/><use href="#pc" x="499.7" y="994"/><use href="#pc" x="499.7" y="1002.3"/><use href="#pc" x="499.7" y="1010.7"/><use href="#pc" x="499.7" y="1019"/>
<use href="#pc" x="583" y="902.3"/><use href="#pc" x="583" y="910.7"/><use href="#pc" x="583" y="919"/><use href="#pc" x="583" y="927.3"/><use href="#pc" x="583" y="935.7"/><use href="#pc" x="583" y="944"/><use href="#pc" x="583" y="952.3"/><use href="#pc" x="583" y="960.7"/><use href="#pc" x="583" y="969"/><use href="#pc" x="583" y="977.3"/><use href="#pc" x="583" y="985.7"/><use href="#pc" x="583" y="994"/><use href="#pc" x="583" y="1002.3"/><use href="#pc" x="583" y="1010.7"/><use href="#pc" x="583" y="1019"/>
</g>
<g>
<text class="p c" x="499.7" y="904">1</text><text class="p c" x="499.7" y="912.4">2</text><text class="p c" x="499.7" y="920.7">3</text><text class="p c" x="499.7" y="929">4</text><text class="p c" x="499.7" y="937.4">5</text><text class="p c" x="499.7" y="945.7">6</text><text class="p c" x="499.7" y="954">7</text><text class="p c" x="499.7" y="962.4">8</text><text class="p c" x="499.7" y="970.7">9</text><text class="p c" x="499.7" y="979">10</text><text class="p c" x="499.7" y="987.4">11</text><text class="p c" x="499.7" y="995.7">12</text><text class="p c" x="499.7" y="1004">13</text><text class="p c" x="499.7" y="1012.4">14</text><text class="p c" x="499.7" y="1020.7">15</text>
<text class="p c" x="583" y="904">30</text><text class="p c" x="583" y="912.4">29</text><text class="p c" x="583" y="920.7">28</text><text class="p c" x="583" y="929">27</text><text class="p c" x="583" y="937.4">26</text><text class="p c" x="583" y="945.7">25</text><text class="p c" x="583" y="954">24</text><text class="p c" x="583" y="962.4">23</text><text class="p c" x="583" y="970.7">22</text><text class="p c" x="583" y="979">21</text><text class="p c" x="583" y="987.4">20</text><text class="p c" x="583" y="995.7">19</text><text class="p c" x="583" y="1004">18</text><text class="p c" x="583" y="1012.4">17</text><text class="p c" x="583" y="1020.7">16</text>
</g>
<text x="531.7" y="879.5">IC701</text><text x="519" y="885.5">UPD789074MC-020</text>
<!-- left inside -->
<g>
<text x="506.7" y="904.3">NTB</text><text x="506.7" y="912.7">S/COMP</text><text x="506.7" y="921">VPP</text><text x="506.7" y="929.3">RESET</text><text x="506.7" y="937.7">X2</text><text x="506.7" y="946">X1</text><text x="506.7" y="954.3">VSS</text><text x="506.7" y="962.7">VDD</text><text x="506.7" y="971">TCLOSE</text><text x="506.7" y="979.3">TOPEN</text><text x="506.7" y="987.7">AVCI</text><text x="506.7" y="996">REMO</text><text x="506.7" y="1004.3">SWCLOSE</text><text x="506.7" y="1012.7">SWOPEN</text><text x="506.7" y="1021">RXD</text>
</g>
<!-- left outside -->
<g>
<text class="e" x="490" y="900.8">NTB</text><text class="e" x="495" y="909.2">S/COMP</text><text class="e" x="490" y="917.5">VPP</text><text class="e" x="492" y="925.8">RESET</text><text class="e" x="486" y="934.2">X2</text><text class="e" x="486" y="942.5">X1</text><text class="e" x="487" y="950.8">VSS</text><text class="e" x="487" y="959.2">VDD</text><text class="e" x="492" y="967.5">TCLOSE</text><text class="e" x="491" y="975.8">TOPEN</text><text class="e" x="489" y="984.2">AVCI</text><text class="e" x="491" y="992.5">REMO</text><text class="e" x="496" y="1000.8">SWUPON</text><text class="e" x="496" y="1009.2">SWOPEN</text><text class="e" x="490" y="1017.5">RXD</text>
</g>
<!-- right inside -->
<g>
<text class="e" x="577" y="904.3">NC</text><text class="e" x="577" y="912.7">TIMEGRN</text><text class="e" x="577" y="921">NC</text><text class="e" x="577" y="929.3">E/OTHER</text><text class="e" x="577" y="937.7">LMOTE</text><text class="e" x="577" y="946">AVCO</text><text class="e" x="577" y="954.3">POWERON</text><text class="e" x="577" y="962.7">CPURST</text><text class="e" x="577" y="971">MUTE</text><text class="e" x="577" y="979.3">FLDIN</text><text class="e" x="577" y="987.7">FLDOUT</text><text class="e" x="577" y="996">FLCLK</text><text class="e" x="577" y="1004.3">FLSTB</text><text class="e" x="577" y="1012.7">INTP</text><text class="e" x="577" y="1021">TXD</text>
</g>
<!-- right outside -->
<g>
<text x="592" y="900.8">NC</text><text x="588" y="909.2">FASTPLAY</text><text x="589" y="917.5">NC</text><text x="589" y="925.8">E/OTHER</text><text x="589" y="934.2">ILMMUTE</text><text x="593" y="942.5">AVCO</text><text x="590" y="950.8">PONSTB</text><text x="592" y="959.2">CPURST</text><text x="589" y="967.5">SYS.COMP. MUTE</text><text x="593" y="975.8">DIN</text><text x="592" y="984.2">DOUT</text><text x="592" y="992.5">CLK</text><text x="592" y="1000.8">STB</text><text x="591" y="1009.2">INTP</text><text x="592" y="1017.5">TXD</text>
</g>
<!-- R703 group -->
<use href="#rh" x="663.5" y="846.4"/><use href="#dr" x="696.7" y="846.4"/><use href="#rv" x="642.3" y="870"/><use href="#cv" x="789.7" y="874"/>
<rect x="722.7" y="866" width="15.3" height="15" fill="#fff" stroke="#222" stroke-width="1.1"/><path d="M727.5 869V878M727.5 872L733 868M727.5 875L733 879.5" fill="none" stroke="#222" stroke-width=".8"/>
<text x="658.3" y="838.7">R703</text><text x="659.3" y="843.7">10K</text><text x="691.7" y="835.7">D701</text><text x="684.3" y="841.2">1SS133-T2</text><text x="741.7" y="840">EXCEPT  J/C</text><text x="747.3" y="872">Q701</text><text x="751" y="877.7">KRC1075-X</text><text x="795" y="870.5">C705</text><text x="796" y="876.7">330P</text>
<text x="735.5" y="864.5">1</text><text x="719" y="872">2</text><text x="735.5" y="886">3</text>
<text transform="translate(639,877) rotate(-90)">R713</text><text transform="translate(650,875) rotate(-90)">10K</text>
<circle cx="868.3" cy="985.7" r="1.9" fill="#fff" stroke="#555" stroke-width=".6"/><circle cx="868.3" cy="998.7" r="1.9" fill="#fff" stroke="#555" stroke-width=".6"/><text x="871.7" y="993.5">B143</text>
<!-- P704 -->
<rect x="533.3" y="1142.7" width="57.7" height="8.3" fill="#fff" stroke="#666" stroke-width=".7"/>
<path d="M541.6 1142.7v8.3M549.8 1142.7v8.3M558 1142.7v8.3M566.3 1142.7v8.3M574.6 1142.7v8.3M582.8 1142.7v8.3" stroke="#666" stroke-width=".7"/>
<text class="p c" x="537.5" y="1149">1</text><text class="p c" x="545.7" y="1149">2</text><text class="p c" x="554" y="1149">3</text><text class="p c" x="562" y="1149">4</text><text class="p c" x="570.4" y="1149">5</text><text class="p c" x="578.7" y="1149">6</text><text class="p c" x="587" y="1149">7</text>
<text transform="translate(539.5,1141) rotate(-90)">VPP</text><text transform="translate(547.7,1141) rotate(-90)">VDD</text><text transform="translate(556,1141) rotate(-90)">RESET</text><text transform="translate(563.7,1141) rotate(-90)">RXD</text><text transform="translate(572,1141) rotate(-90)">TXD</text><text transform="translate(580.3,1141) rotate(-90)">INTP</text><text transform="translate(589,1141) rotate(-90)">GND</text>
<text x="601.3" y="1144">P704</text><text x="596" y="1151">QGF1016C1-07</text>
<text x="914" y="1109.3" style="font-size:25px;fill:#999">PAN</text>

<!-- clip mask -->
<rect x="951" y="125" width="69" height="1070" fill="#fff"/>

<!-- tables -->
<text class="m" x="101.7" y="1198" style="font-size:8.5px" textLength="25" lengthAdjust="spacingAndGlyphs">*NOTE</text>
<g fill="none" stroke="#888" stroke-width=".8">
<rect x="127.3" y="1192.3" width="261" height="73.7"/>
<path d="M127.3 1209.3H388.3M127.3 1224H388.3M127.3 1235H388.3M127.3 1245.7H388.3M127.3 1256H388.3M172.3 1192.3V1266M225.7 1192.3V1266M277.3 1192.3V1266M328.3 1192.3V1266M127.3 1192.3L172.3 1209.3"/>
<rect x="421" y="1203.3" width="201.3" height="62.7"/>
<path d="M421 1221.7H622.3M421 1234H622.3M421 1245H622.3M421 1256H622.3M466.7 1203.3V1266M518.3 1203.3V1266M570 1203.3V1266M421 1206L466.7 1221.7"/>
</g>
<g>
<text class="m" x="160" y="1198" style="font-size:5px">Ver</text><text class="m" x="129" y="1206.5" style="font-size:5px">REF  NO</text>
<text class="m c" x="199" y="1203" style="font-size:5px">J/C</text><text class="m c" x="251.5" y="1203" style="font-size:5px">B/E/EN/EV/EE /A</text><text class="m c" x="302.5" y="1196.5" style="font-size:5px">UG/UF/US/UX/UT</text><text class="m c" x="304" y="1204" style="font-size:5px">UW/UY/UP/UJ/UB</text><text class="m c" x="358" y="1203" style="font-size:5px">D</text>
<text class="m c" x="150" y="1218" style="font-size:5px">F901</text>
<text class="m c" x="199" y="1215" style="font-size:5px">QMF51U1-1R6-J8</text><text class="m c" x="199" y="1221.5" style="font-size:5px">1.6A-125V</text><text class="m c" x="251.5" y="1215" style="font-size:5px">QMF51E2-1R6-J1</text><text class="m c" x="251.5" y="1221.5" style="font-size:5px">T1.6A-250V</text><text class="m c" x="302.5" y="1215" style="font-size:5px">QMF51E2-1R6-J1</text><text class="m c" x="302.5" y="1221.5" style="font-size:5px">T1.6A-250V</text><text class="m c" x="358" y="1215" style="font-size:5px">QMF51U1-1R6-J8</text><text class="m c" x="358" y="1221.5" style="font-size:5px">1.6A-125V</text>
<text class="m c" x="150" y="1231.5" style="font-size:5px">C907</text><text class="m c" x="199" y="1231.5" style="font-size:5px">47U/200</text><text class="m c" x="251.5" y="1231.5" style="font-size:5px">33U/400</text><text class="m c" x="302.5" y="1231.5" style="font-size:5px">47U/400</text><text class="m c" x="358" y="1231.5" style="font-size:5px">56U/200</text>
<text class="m c" x="150" y="1241.5" style="font-size:5px">R810</text><text class="m c" x="199" y="1240" style="font-size:5px">NONE</text><text class="m c" x="251.5" y="1240" style="font-size:5px">USE</text><text class="m c" x="302.5" y="1240" style="font-size:5px">USE</text><text class="m c" x="358" y="1240" style="font-size:5px">NONE</text>
<text class="m c" x="150" y="1252.5" style="font-size:5px">C902</text><text class="m c" x="199" y="1252.5" style="font-size:5px">0.074/AC250V</text><text class="m c" x="251.5" y="1251" style="font-size:5px">0.068/AC250V</text><text class="m c" x="302.5" y="1251" style="font-size:5px">0.068/AC250V</text><text class="m c" x="358" y="1252.5" style="font-size:5px">0.074/AC250V</text>
<text class="m c" x="150" y="1262.5" style="font-size:5px">C918</text><text class="m c" x="199" y="1262.5" style="font-size:5px">0.074/AC250V</text><text class="m c" x="251.5" y="1262.5" style="font-size:5px">0.068/AC250V</text><text class="m c" x="302.5" y="1262.5" style="font-size:5px">0.068/AC250V</text><text class="m c" x="358" y="1262.5" style="font-size:5px">0.074/AC250V</text>
</g>
<text class="m" x="420" y="1199" style="font-size:8.5px">* NOTE :</text>
<g>
<text class="m" x="453" y="1210" style="font-size:5px">Ver</text><text class="m" x="423" y="1217.5" style="font-size:5px">REF  NO</text>
<text class="m c" x="492.5" y="1214" style="font-size:5px">J/C/D</text><text class="m c" x="544" y="1214" style="font-size:5px">B/E/EN/EV/EE /A</text><text class="m c" x="595" y="1208.5" style="font-size:5px">UG/UF/US/UX/UT</text><text class="m c" x="597" y="1216" style="font-size:5px">UW/UY/UP/UJ/UB</text>
<text class="m c" x="444" y="1230" style="font-size:5px">R707</text><text class="m c" x="492.5" y="1230" style="font-size:5px">NONE</text><text class="m c" x="544" y="1230" style="font-size:5px">USE</text><text class="m c" x="595" y="1230" style="font-size:5px">USE</text>
<text class="m c" x="444" y="1241.5" style="font-size:5px">R710</text><text class="m c" x="492.5" y="1240.5" style="font-size:5px">USE</text><text class="m c" x="544" y="1241" style="font-size:5px">NONE</text><text class="m c" x="595" y="1240" style="font-size:5px">USE</text>
<text class="m c" x="444" y="1251.5" style="font-size:5px">B38</text><text class="m c" x="492.5" y="1250.5" style="font-size:5px">USE</text><text class="m c" x="544" y="1250.5" style="font-size:5px">NONE</text><text class="m c" x="595" y="1250.5" style="font-size:5px">NONE</text>
<text class="m c" x="444" y="1262.5" style="font-size:5px">B143</text><text class="m c" x="492.5" y="1262" style="font-size:5px">NONE</text><text class="m c" x="544" y="1262" style="font-size:5px">USE</text><text class="m c" x="595" y="1262" style="font-size:5px">NONE</text>
</g>
<rect x="902.7" y="1205" width="32.3" height="15.7" fill="#b8b8b8"/>
<svg x="938" y="1205" width="13" height="16" viewBox="938 1205 13 16"><use href="#w" x="946.3" y="1213"/></svg>
</svg>
</body></html>
